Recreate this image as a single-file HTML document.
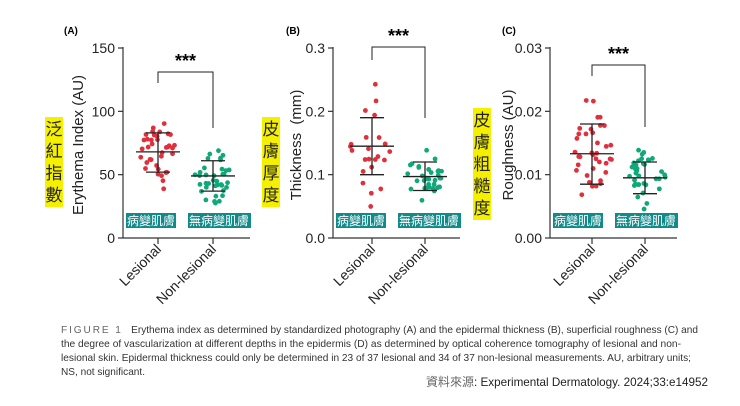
<!DOCTYPE html><html><head><meta charset="utf-8"><style>
body{margin:0;background:#fff;width:740px;height:406px;overflow:hidden;font-family:"Liberation Sans",sans-serif}
</style></head><body>
<svg id="s" width="740" height="406" style="position:absolute;left:0;top:0" font-family="Liberation Sans, Noto Sans CJK TC, sans-serif"></svg>
<script>
let h='';const s=document.getElementById('s');
let seed=11;function r(){seed=(seed*9301+49297)%233280;return seed/233280;}
function panel(o){const{ax,lab,ticks,max,xl,xn,title,zh,zhx,zhy,tx,m,br,lx}=o;
const Y=v=>238-v/max*190;
h+=`<text x="${lx}" y="34" font-size="10" font-weight="bold">${lab}</text>`;
h+=`<line x1="${ax}" y1="47" x2="${ax}" y2="238" stroke="#333" stroke-width="1.2"/><line x1="${ax}" y1="238" x2="${ax+127}" y2="238" stroke="#333" stroke-width="1.2"/>`;
ticks.forEach(t=>{const y=Y(t);h+=`<line x1="${ax-5}" y1="${y}" x2="${ax}" y2="${y}" stroke="#333" stroke-width="1.2"/><text x="${ax-8}" y="${y+5}" font-size="14" text-anchor="end" fill="#222">${o.fmt(t)}</text>`});
[xl,xn].forEach(x=>h+=`<line x1="${x}" y1="238" x2="${x}" y2="244" stroke="#333" stroke-width="1.2"/>`);
h+=`<text transform="translate(${xl+4},250) rotate(-45)" font-size="14" text-anchor="end" fill="#222">Lesional</text>`;
h+=`<text transform="translate(${xn+4},250) rotate(-45)" font-size="14" text-anchor="end" fill="#222">Non-lesional</text>`;
h+=`<text transform="translate(${tx},145) rotate(-90)" font-size="15" text-anchor="middle" fill="#222">${title}</text>`;
[[xl,m[0],'#e0303c',o.n[0]],[xn,m[1],'#10a878',o.n[1]]].forEach(([x,mm,c,n])=>{
const sd=(mm[2]-mm[1])/2;
for(let i=0;i<n;i++){let z=(r()+r()-1)*2.2;let v=mm[0]+z*sd;if(v<=0)v=mm[0];let w=1-Math.abs(z)/2.6;let dx=(r()-0.5)*44*w;
h+=`<circle cx="${x+dx}" cy="${Y(v)}" r="2.4" fill="${c}"/>`}
h+=`<line x1="${x-22}" y1="${Y(mm[0])}" x2="${x+22}" y2="${Y(mm[0])}" stroke="#222" stroke-width="1.3"/>`;
h+=`<line x1="${x}" y1="${Y(mm[1])}" x2="${x}" y2="${Y(mm[2])}" stroke="#222" stroke-width="1.3"/>`;
[mm[1],mm[2]].forEach(v=>h+=`<line x1="${x-12}" y1="${Y(v)}" x2="${x+12}" y2="${Y(v)}" stroke="#222" stroke-width="1.3"/>`);});
h+=`<path d="M${xl} ${br[1]}V${br[0]}H${xn}V${br[2]}" fill="none" stroke="#222" stroke-width="1"/>`;
h+=`<text x="${(xl+xn)/2}" y="${br[0]-5}" font-size="18" font-weight="bold" text-anchor="middle">***</text>`;
h+=`<rect x="${ax+3}" y="213" width="50" height="15" fill="#128a8a"/><text x="${ax+28}" y="225" font-size="12" fill="#fff" text-anchor="middle">病變肌膚</text>`;
h+=`<rect x="${ax+65}" y="213" width="63" height="15" fill="#128a8a"/><text x="${ax+96}" y="225" font-size="12" fill="#fff" text-anchor="middle">無病變肌膚</text>`;
h+=`<rect x="${zhx}" y="${zhy}" width="18" height="${zh.length*22+2}" fill="#f5f000"/>`;
[...zh].forEach((c,i)=>h+=`<text x="${zhx+9}" y="${zhy+18+i*22}" font-size="17" text-anchor="middle" fill="#222">${c}</text>`);}
panel({ax:123,lab:'(A)',lx:64,ticks:[0,50,100,150],max:150,xl:158,xn:213,title:'Erythema Index (AU)',tx:83,zh:'泛紅指數',zhx:45,zhy:117,m:[[68,52,83],[49,37,61]],br:[72,83,128],n:[37,37],fmt:t=>t});
panel({ax:333,lab:'(B)',lx:286,ticks:[0,0.1,0.2,0.3],max:0.3,xl:372,xn:425,title:'Thickness&#160;&#160;(mm)',tx:301,zh:'皮膚厚度',zhx:262,zhy:117,m:[[0.145,0.1,0.19],[0.097,0.075,0.12]],br:[47,60,118],n:[23,34],fmt:t=>t.toFixed(1)});
panel({ax:550,lab:'(C)',lx:502,ticks:[0,0.01,0.02,0.03],max:0.03,xl:592,xn:645,title:'Roughness (AU)',tx:513,zh:'皮膚粗糙度',zhx:473,zhy:108,m:[[0.0133,0.0085,0.018],[0.0095,0.007,0.012]],br:[65,76,127],n:[37,37],fmt:t=>t.toFixed(2)});
const L=[[333,637,'<tspan fill="#666" letter-spacing="2">FIGURE 1</tspan>   Erythema index as determined by standardized photography (A) and the epidermal thickness (B), superficial roughness (C) and'],
[347,620,'the degree of vascularization at different depths in the epidermis (D) as determined by optical coherence tomography of lesional and non-'],
[361,630,'lesional skin. Epidermal thickness could only be determined in 23 of 37 lesional and 34 of 37 non-lesional measurements. AU, arbitrary units;'],
[375,84,'NS, not significant.']];
L.forEach(([y,w,t])=>h+=`<text x="61" y="${y}" font-size="10.5" fill="#333" textLength="${w}" lengthAdjust="spacingAndGlyphs" xml:space="preserve">${t}</text>`);
h+=`<text x="426" y="386" font-size="12" fill="#666">資料來源</text><text x="474" y="386" font-size="12" fill="#222" textLength="234" lengthAdjust="spacingAndGlyphs">: Experimental Dermatology. 2024;33:e14952</text>`;
s.innerHTML=h;
</script></body></html>
